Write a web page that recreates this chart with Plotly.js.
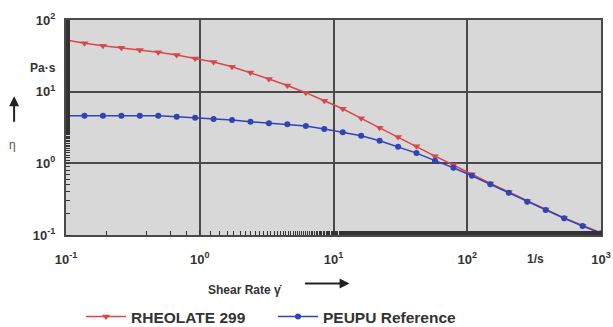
<!DOCTYPE html>
<html>
<head>
<meta charset="utf-8">
<script src="https://cdn.plot.ly/plotly-3.0.1.min.js"></script>
<style>html,body{margin:0;padding:0;background:#fff;}#chart{width:613px;height:327px;}</style>
</head>
<body>
<div id="chart"></div>
<script>
// Shear rate (1/s), 30 points log-spaced
const shearRate = [0.1, 0.1374, 0.1888, 0.2593, 0.3562, 0.4894, 0.6723, 0.9237, 1.269, 1.743,
  2.395, 3.290, 4.520, 6.210, 8.532, 11.72, 16.10, 22.12, 30.39, 41.75,
  57.36, 78.80, 108.3, 148.7, 204.3, 280.7, 385.7, 529.8, 727.9, 1000];
// Viscosity (Pa·s)
const rheolate299 = [52.6, 47.3, 43.8, 41.1, 38.1, 35.4, 32.5, 29.0, 25.9, 22.3,
  18.5, 15.0, 12.2, 9.68, 7.46, 5.77, 4.25, 3.13, 2.33, 1.73,
  1.26, 0.948, 0.703, 0.524, 0.398, 0.298, 0.227, 0.173, 0.135, 0.107];
const peupuRef = [4.62, 4.62, 4.62, 4.62, 4.62, 4.62, 4.48, 4.33, 4.16, 4.03,
  3.81, 3.62, 3.51, 3.32, 3.01, 2.71, 2.43, 2.07, 1.71, 1.39,
  1.09, 0.869, 0.672, 0.509, 0.389, 0.291, 0.223, 0.171, 0.133, 0.106];
const xTickVals = [0.1, 1, 10, 100, 1000];
const xTickText = ['10<sup>-1</sup>', '10<sup>0</sup>', '10<sup>1</sup>', '10<sup>2</sup>', '10<sup>3</sup>'];
const yTickVals = [0.1, 1, 10, 100];
const yTickText = ['10<sup>-1</sup>', '10<sup>0</sup>', '10<sup>1</sup>', '10<sup>2</sup>'];

const fontFam = 'Liberation Sans, Arial, sans-serif';
const traces = [
  {x: shearRate, y: rheolate299, name: 'RHEOLATE 299', mode: 'lines+markers',
   line: {color: '#d8474a', width: 1.5},
   marker: {symbol: 'triangle-down', size: 7, color: '#d8474a'}},
  {x: shearRate, y: peupuRef, name: 'PEUPU Reference', mode: 'lines+markers',
   line: {color: '#2f44b5', width: 1.5},
   marker: {symbol: 'circle', size: 6, color: '#2f44b5'}}
];
const axisCommon = {
  type: 'log', showgrid: true, gridcolor: '#4a4a4a', gridwidth: 2,
  showline: true, linecolor: '#4a4a4a', linewidth: 2, mirror: true,
  zeroline: false, ticks: '', tickmode: 'array', automargin: false,
  tickfont: {family: fontFam, size: 13, color: '#333', weight: 'bold'},
  minor: {ticks: 'inside', ticklen: 4, tickcolor: '#333', tickwidth: 1, showgrid: false}
};
const layout = {
  width: 613, height: 327,
  margin: {l: 66, r: 12, t: 20, b: 92, autoexpand: false},
  paper_bgcolor: '#ffffff', plot_bgcolor: '#d8d8d8',
  showlegend: true,
  legend: {orientation: 'h', x: 81 / 613, xref: 'container', y: 10 / 327, yref: 'container',
    yanchor: 'middle', xanchor: 'left', itemwidth: 40,
    font: {family: fontFam, size: 15.5, color: '#333', weight: 'bold'}, entrywidth: 137},
  xaxis: Object.assign({}, axisCommon, {range: [-1, 3], tickvals: xTickVals, ticktext: xTickText, ticklabelstandoff: 11}),
  yaxis: Object.assign({}, axisCommon, {range: [-1, 2], tickvals: yTickVals, ticktext: yTickText, ticklabelstandoff: 6}),
  annotations: [
    {text: '<b>Pa·s</b>', xref: 'paper', yref: 'paper', x: -0.015, y: 0.82, xanchor: 'right', showarrow: false,
     font: {family: fontFam, size: 12, color: '#333'}},
    {text: 'η', xref: 'paper', yref: 'paper', x: -0.1, y: 0.42, xanchor: 'center', showarrow: false,
     font: {family: fontFam, size: 12, color: '#555'}},
    {text: '', xref: 'paper', yref: 'paper', x: -0.097, y: 0.645, ax: 0, ay: 27, showarrow: true,
     arrowhead: 2, arrowsize: 1, arrowwidth: 2, arrowcolor: '#222'},
    {text: '<b>1/s</b>', xref: 'paper', yref: 'paper', x: 0.877, y: -0.07, xanchor: 'center', yanchor: 'top', showarrow: false,
     font: {family: fontFam, size: 12, color: '#333'}},
    {text: '<b>Shear Rate γ̇</b>', xref: 'paper', yref: 'paper', x: 0.334, y: -0.215, xanchor: 'center', yanchor: 'top', showarrow: false,
     font: {family: fontFam, size: 12, color: '#333'}},
    {text: '', xref: 'paper', yref: 'paper', x: 0.53, y: -0.225, ax: -46, ay: 0, showarrow: true,
     arrowhead: 2, arrowsize: 1, arrowwidth: 2, arrowcolor: '#222'}
  ]
};
Plotly.newPlot('chart', traces, layout, {displayModeBar: false, staticPlot: true});
</script>
</body>
</html>
